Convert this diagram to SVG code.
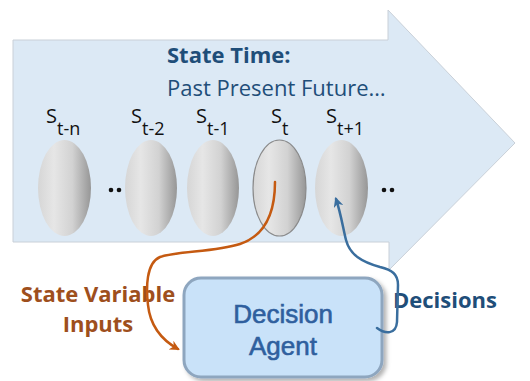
<svg xmlns="http://www.w3.org/2000/svg" width="530" height="381" viewBox="0 0 530 381">
<style>
.ttl{font-family:"Open Sans",sans-serif;font-size:22px;fill:#1f4e79}
.s{font-family:"Open Sans",sans-serif;font-size:20px;fill:#111}
.sub{font-size:18px}
.st{stroke:none;fill:url(#eg)}
.dot{fill:#111}
.lbl{font-family:"Open Sans",sans-serif;font-size:22px;font-weight:bold}
.agent{font-family:"Liberation Sans",Arial,sans-serif;font-size:26px;fill:#2f5f9e;stroke:#2f5f9e;stroke-width:0.6;text-anchor:middle}
.con{fill:none;stroke-width:2.5;stroke-linecap:round}
</style>
<defs>
<linearGradient id="eg" x1="0" y1="0" x2="1" y2="0">
<stop offset="0" stop-color="#d6d6d6"/>
<stop offset="0.3" stop-color="#e6e6e6"/>
<stop offset="0.65" stop-color="#d2d2d2"/>
<stop offset="1" stop-color="#969696"/>
</linearGradient>
<marker id="ao" viewBox="0 0 10 10" refX="8" refY="5" markerWidth="4" markerHeight="4" orient="auto" markerUnits="strokeWidth">
<path d="M0,0 L10,5 L0,10 L3,5 z" fill="#c55a11"/>
</marker>
<marker id="ab" viewBox="0 0 10 10" refX="8" refY="5" markerWidth="4" markerHeight="4" orient="auto" markerUnits="strokeWidth">
<path d="M0,0 L10,5 L0,10 L3,5 z" fill="#3a6e9e"/>
</marker>
<filter id="sh" x="-10%" y="-10%" width="125%" height="130%">
<feDropShadow dx="3" dy="3" stdDeviation="2" flood-color="#000" flood-opacity="0.3"/>
</filter>
</defs>
<rect width="530" height="381" fill="#fff"/>
<g id="time-arrow">
<path d="M13,40 L388,40 L388,10 L515,143 L389,270 L389,242 L13,242 Z" fill="#dce9f5" stroke="#c9d0d8" stroke-width="1"/>
</g>
<g id="title">
<text class="ttl" x="167" y="63" font-weight="bold">State Time:</text>
<text class="ttl" x="167" y="96">Past Present Future…</text>
</g>
<g id="s-tn">
<text class="s" x="46" y="123">S<tspan class="sub" dy="12">t-n</tspan></text>
<ellipse class="st" cx="64.5" cy="188" rx="26.5" ry="48"/>
</g>
<g id="dots1"><circle class="dot" cx="111" cy="190" r="2.3"/><circle class="dot" cx="119" cy="190" r="2.3"/></g>
<g id="s-t2">
<text class="s" x="131" y="123">S<tspan class="sub" dy="12">t-2</tspan></text>
<ellipse class="st" cx="151" cy="188" rx="26" ry="48"/>
</g>
<g id="s-t1">
<text class="s" x="196" y="123">S<tspan class="sub" dy="12">t-1</tspan></text>
<ellipse class="st" cx="213" cy="188" rx="26" ry="48"/>
</g>
<g id="s-t">
<text class="s" x="271" y="123">S<tspan class="sub" dy="12">t</tspan></text>
<ellipse cx="279.5" cy="188" rx="26.5" ry="48" fill="url(#eg)" stroke="#8a8a8a" stroke-width="1.2"/>
</g>
<g id="s-t+1">
<text class="s" x="326" y="123">S<tspan class="sub" dy="12">t+1</tspan></text>
<ellipse class="st" cx="341.5" cy="188" rx="26.5" ry="48"/>
</g>
<g id="dots2"><circle class="dot" cx="384" cy="190" r="2.3"/><circle class="dot" cx="392" cy="190" r="2.3"/></g>
<g id="decision-agent">
<rect x="184" y="278" width="198" height="99" rx="17" fill="#c9e2f9" stroke="#8ea6bf" stroke-width="3" filter="url(#sh)"/>
<text class="agent" x="283" y="323">Decision</text>
<text class="agent" x="283" y="355">Agent</text>
</g>
<g id="labels">
<text class="lbl" x="98" y="302" fill="#9e4f1d" text-anchor="middle">State Variable</text>
<text class="lbl" x="98" y="332" fill="#9e4f1d" text-anchor="middle">Inputs</text>
<text class="lbl" x="393" y="308" fill="#1f4e79">Decisions</text>
</g>
<g id="connectors">
<path class="con" stroke="#c55a11" marker-end="url(#ao)" d="M275,182 C275,215 264,236 240,244 C215,252 178,251 160,257 C146,263 146,288 148,305 C150,324 160,339 178,349"/>
<path class="con" stroke="#3a6e9e" marker-end="url(#ab)" d="M377,328 C385,334 396,335 397,322 L398,285 C398,274 392,270 380,267 C362,262 350,255 346,240 C343,228 341,214 336,199"/>
</g>
</svg>
